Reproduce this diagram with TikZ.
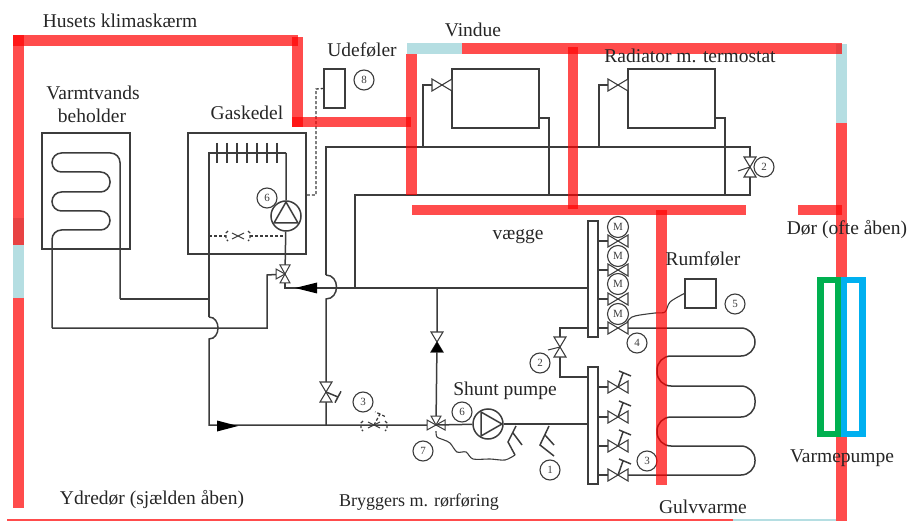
\documentclass[tikz,border=0pt]{standalone}
\usepackage{fontspec}
\setmainfont{Liberation Serif}
\definecolor{wallred}{RGB}{255,0,0}
\definecolor{wallblue}{RGB}{181,222,226}
\definecolor{pipegray}{RGB}{60,60,60}
\definecolor{pumpgreen}{RGB}{0,176,80}
\definecolor{pumpblue}{RGB}{0,176,240}
\tikzset{
	pipe/.style={draw=pipegray, line width=1.5pt},
	ctrl/.style={pipe, line width=1.3pt, dash pattern=on 3pt off 2pt},
	wall/.style={fill=wallred, fill opacity=0.7},
	box/.style={pipe, rectangle, inner sep=0pt, fill=white},
	num/.style={pipe, line width=1.1pt, circle, inner sep=0pt, minimum size=20pt, text=pipegray, font=\fontsize{11}{11}\selectfont},
	txt/.style={inner sep=0pt, text=black!85, font=\fontsize{19.5}{19.5}\selectfont},
	valve/.pic={\draw[pipe, line width=1.1pt, fill=white] (-10,-6) -- (10,6) -- (10,-6) -- (-10,6) -- cycle;},
	arm/.pic={\draw[pipe, line width=1pt, fill=white] (0,0) -- (9,-5) -- (9,5) -- cycle;},
	pumphead/.pic={\draw[pipe, line join=round] (14,0) -- (-7,12) -- (-7,-12) -- cycle;},
	thandle/.pic={\draw[pipe] (0,0) -- (12,5) ++(3,-5.7) -- ++(-6,11.4);}
}
\begin{document}
\begin{tikzpicture}[x=1pt, y=-1pt]
	\useasboundingbox (0,0) rectangle (910,521);
	
	% names of the joints
	\coordinate (g1) at (209,153);
	\coordinate (g2) at (286,153);
	\coordinate (jump1a) at (209,317);
	\coordinate (jump1b) at (209,339);
	\coordinate (jump2a) at (326,275);
	\coordinate (jump2b) at (326,299);
	\coordinate (s1) at (326,147);
	\coordinate (s2) at (750,147);
	\coordinate (s3) at (750,195);
	\coordinate (s4) at (355,195);
	\coordinate (s5) at (355,288);
	\coordinate (r1) at (285,288);
	\coordinate (cr) at (120,299);
	\coordinate (cl) at (52,328);
	\coordinate (vin) at (267,275);
	\coordinate (tee3) at (326,425);
	\coordinate (vmix) at (285,274);
	\coordinate (vshunt) at (436,425);
	\coordinate (vby) at (437,342);
	\coordinate (vret) at (326,392);
	\coordinate (vtop) at (750,167);
	\coordinate (vman) at (560,347);
	\coordinate (vrad1) at (442,85);
	\coordinate (vrad2) at (618,85);
	\coordinate (vdash) at (238,236);
	\coordinate (vthree) at (374,425);
	
	% tank and boiler
	\node[box, minimum width=88pt, minimum height=116pt] (tank) at (86,191) {};
	\node[box, minimum width=118pt, minimum height=121pt] (boiler) at (247,193.5) {};
	\draw[pipe, rounded corners=9.5pt] (cr) -- (120,153) -- (52,153) -- (52,172) -- (110,172) -- (110,192) -- (52,192) -- (52,211) -- (110,211) -- (110,230) -- (52,230) -- (cl);
	\draw[pipe] (cr) -- (cr -| g1);
	\draw[pipe] (cl) -| (vin) -- (vmix);
	\draw[pipe] (jump1a) -- (g1) -- (g2);
	\draw[pipe] (jump1a) .. controls (221,317) and (221,339) .. (jump1b) |- (vshunt);
	\foreach \x in {217,227,...,277}
	\draw[pipe] (\x,143) -- (\x,163);
	\node[pipe, circle, inner sep=0pt, minimum size=30pt] (pumpg) at (286,216) {};
	\pic[rotate=90] at (pumpg) {pumphead};
	\draw[pipe] (g2) -- (pumpg) -- (vmix);
	\node[num] (n6a) at (267,198) {6};
	\draw[ctrl] (g1 |- vdash) -- (226,236);
	\draw[ctrl] (250,236) -- (pumpg.south |- vdash);
	\draw[ctrl] (228,231) -- (226,233) -- (226,239) -- (228,241);
	\draw[ctrl] (248,231) -- (250,233) -- (250,239) -- (248,241);
	\draw[pipe, line width=1pt] (232,233) -- (244,239) (232,239) -- (244,233);
	
	% outdoor sensor
	\node[box, minimum width=21pt, minimum height=39pt] (ude) at (334.5,88.5) {};
	\node[num] (n8) at (364,80) {8};
	\draw[ctrl] (boiler.east |- 0,195) -- (316,195) -- (316,89) -- (ude.west);
	
	% radiators
	\node[box, minimum width=87pt, minimum height=59pt] (rad1) at (495.5,98.5) {};
	\node[box, minimum width=87pt, minimum height=59pt] (rad2) at (671.5,98.5) {};
	\draw[pipe] (jump2a) -- (s1) -- (s2) -- (s3) -- (s4) -- (s5);
	\draw[pipe] (jump2a) .. controls (340,275) and (340,299) .. (jump2b) -- (tee3);
	\draw[pipe] (423,147) |- (vrad1) -- (rad1.west |- vrad1);
	\draw[pipe] (599,147) |- (vrad2) -- (rad2.west |- vrad2);
	\draw[pipe] (rad1.east |- 0,118) -| (549,195);
	\draw[pipe] (rad2.east |- 0,118) -| (725,195);
	\pic at (vrad1) {valve};
	\pic at (vrad2) {valve};
	\pic[rotate=90] at (vtop) {valve};
	\draw[pipe, line width=1pt] (vtop) -- (738,171);
	\node[num] (n2a) at (764,167) {2};
	
	% manifolds
	\node[box, minimum width=10pt, minimum height=116pt] (manup) at (593,279) {};
	\node[box, minimum width=10pt, minimum height=117pt] (manlo) at (593,425.5) {};
	\draw[pipe] (vmix) -- (r1) -- (r1 -| manup.west);
	\draw[pipe] (manup.west |- 0,328) -| (vman) |- (manlo.west |- 0,377);
	\pic[rotate=90] at (vman) {valve};
	\draw[pipe, line width=1pt] (vman) -- (548,350);
	\node[num] (n2b) at (540,363) {2};
	\foreach \y/\m in {241/227, 270/256, 299/284, 328/314}{
		\draw[pipe] (598,\y) -- (618,\y);
		\pic at (618,\y) {valve};
		\node[num, fill=white, minimum size=21pt] (mot\y) at (618,\m) {M};
	}
	\foreach \y in {387, 417, 446, 475}{
		\draw[pipe] (598,\y) -- (618,\y);
		\pic at (618,\y) {valve};
		\draw[pipe] (618,\y) -- ++(5,-14) ++(-4,-2) -- ++(12,5);
	}
	\node[num] (n3b) at (647,461) {3};
	\node[num] (n4) at (637,343) {4};
	
	% floor heating
	\draw[pipe, rounded corners=14pt] (628,328) -- (755,328) -- (755,356) -- (657,356) -- (657,386) -- (755,386) -- (755,417) -- (657,417) -- (657,446) -- (755,446) -- (755,475) -- (628,475);
	\node[box, minimum width=31pt, minimum height=29pt] (rum) at (700.5,293.5) {};
	\node[num] (n5) at (735,304) {5};
	\draw[pipe, line width=1.1pt] plot[smooth] coordinates {(627,322) (632,317) (640,315) (655,313) (665,312) (670,302) (rum.west)};
	
	% mixing loop
	\draw[pipe] (r1 -| vby) -- (vby) -- (vshunt);
	\foreach \a in {180,90,-90}
	\pic[rotate=\a] at (vmix) {arm};
	\foreach \a in {180,0,90}
	\pic[rotate=\a] at (vshunt) {arm};
	\pic[rotate=90] at (vby) {valve};
	\fill[black] (vby) -- (431,352) -- (443,352) -- cycle;
	\pic[rotate=90] at (vret) {valve};
	\pic at (vret) {thandle};
	\fill[black] (295,288) -- (317,282.5) -- (317,293.5) -- cycle;
	\fill[black] (238,426) -- (217,420.5) -- (217,431.5) -- cycle;
	\node[pipe, circle, inner sep=0pt, minimum size=30pt, fill=white] (pumps) at (488,424) {};
	\pic at (pumps) {pumphead};
	\draw[pipe] (vshunt) -- (pumps);
	\draw[pipe] (pumps) -- (pumps -| manlo.west);
	\draw[ctrl] (363,421) -- (361,423) -- (361,429) -- (363,431);
	\draw[ctrl] (385,421) -- (387,423) -- (387,429) -- (385,431);
	\draw[pipe, line width=1pt] (368,422) -- (380,428) (368,428) -- (380,422);
	\draw[ctrl] (374,425) -- (380,414) -- (386,417) (380,414) -- (375,412);
	\node[num] (n3a) at (363,402) {3};
	\node[num] (n6b) at (462,412) {6};
	\node[num] (n7) at (423,451) {7};
	\node[num] (n1) at (550,470) {1};
	\draw[pipe] (516,426) -- (508,442) -- (515,455) (513,433) -- (522,445);
	\draw[pipe] (549,426) -- (540,445) -- (554,456) (545,435) -- (554,445);
	\draw[pipe, line width=1.1pt] plot[smooth] coordinates {(436,431) (437,437) (444,440) (450,443) (457,452) (466,452) (473,459) (490,459) (505,460) (515,455)};
	
	% walls of the house
	\fill[wall] (13,35) rectangle (298,46);
	\fill[wall] (13,35) rectangle (24,245);
	\fill[wallblue] (13,218) rectangle (24,298);
	\fill[wall] (13,218) rectangle (24,245);
	\fill[wall] (13,298) rectangle (24,508);
	\fill[wall] (292,37) rectangle (303,127);
	\fill[wall] (292,117) rectangle (411,127);
	\fill[wallblue] (407,43) rectangle (462,54);
	\fill[wallblue] (836,44) rectangle (847,123);
	\fill[wall] (462,43) rectangle (842,54);
	\fill[wall] (406,54) rectangle (417,195);
	\fill[wall] (568,47) rectangle (578,209);
	\fill[wall] (412,205) rectangle (746,215);
	\fill[wall] (656,210) rectangle (667,485);
	\fill[wall] (798,205) rectangle (842,215);
	\fill[wall] (836,123) rectangle (847,521);
	\fill[wall] (7,518.5) rectangle (733,520.5);
	\fill[wallblue] (733,518.5) rectangle (836,520.5);
	
	% heat pump
	\draw[pumpgreen, line width=6.5pt] (820.5,280) rectangle (838,434);
	\draw[pumpblue, line width=6.5pt] (844,280) rectangle (862.5,434);
	
	% labels
	\node[txt] (lclimate) at (120,21) {Husets klimaskærm};
	\node[txt] (ltank1) at (93,93) {Varmtvands};
	\node[txt] (ltank2) at (92,116) {beholder};
	\node[txt] (lboiler) at (247,113) {Gaskedel};
	\node[txt] (lude) at (362,50) {Udeføler};
	\node[txt] (lwindow) at (473,30) {Vindue};
	\node[txt] (lrad) at (690,56) {Radiator m. termostat};
	\node[txt] (lwalls) at (518,237) {vægge};
	\node[txt] (ldoor) at (847,230) {Dør (ofte åben)};
	\node[txt] (lroom) at (703,259) {Rumføler};
	\node[txt] (lshunt) at (505,391) {Shunt pumpe};
	\node[txt] (lpump) at (842,458) {Varmepumpe};
	\node[txt] (lout) at (152,500) {Ydredør (sjælden åben)};
	\node[txt, font=\fontsize{18}{18}\selectfont] (lback) at (419,502) {Bryggers m. rørføring};
	\node[txt] (lfloor) at (703,507) {Gulvvarme};
\end{tikzpicture}
\end{document}
